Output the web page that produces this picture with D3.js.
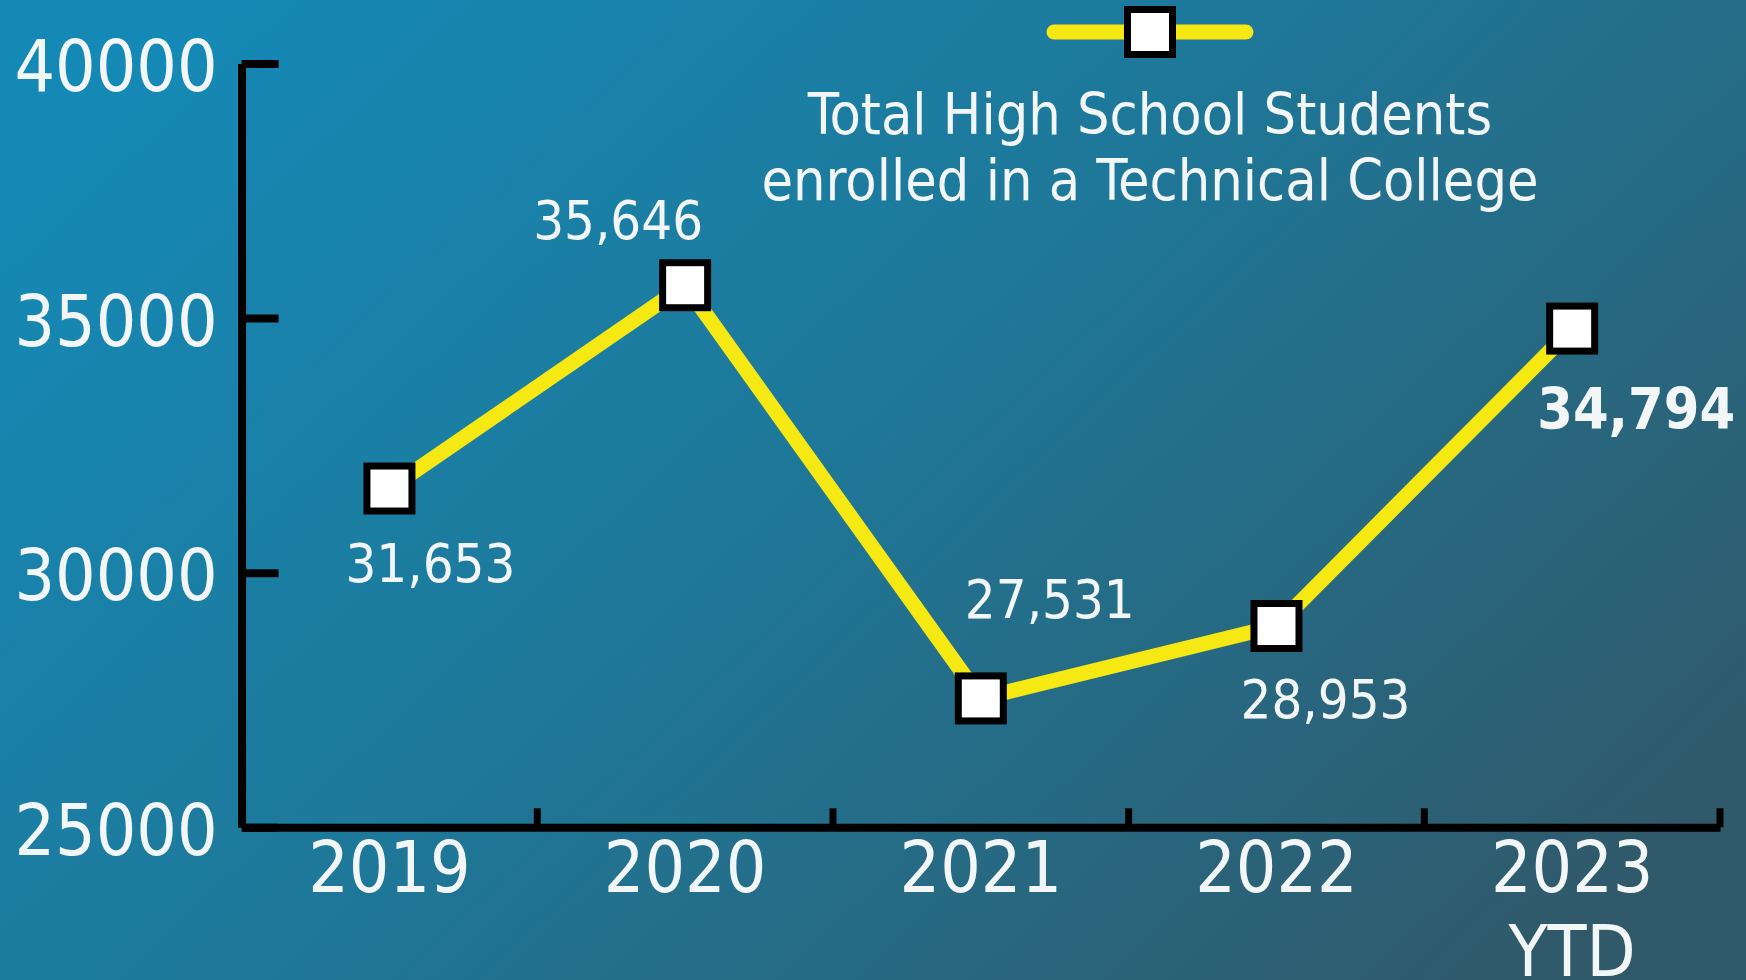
<!DOCTYPE html>
<html>
<head>
<meta charset="utf-8">
<script src="https://cdn.jsdelivr.net/npm/d3@7"></script>
<style>
  html, body { margin: 0; padding: 0; overflow: hidden; }
  svg { display: block; }
  text { font-family: "DejaVu Sans Condensed", "DejaVu Sans", sans-serif; fill: #f3f6f7; }
</style>
</head>
<body>
<div id="vis"></div>
<script>
// chart data
const years = ['2019', '2020', '2021', '2022', '2023'];
const yearLabels = [['2019'], ['2020'], ['2021'], ['2022'], ['2023', 'YTD']];
const students = [31653, 35646, 27531, 28953, 34794];
const yTicks = [25000, 30000, 35000, 40000];
const seriesName = ['Total High School Students', 'enrolled in a Technical College'];

// where each value label sits relative to its marker (px)
const labelShift = [[41, 93], [-67, -46], [69, -80], [49, 92], [64, 100]];

const width = 1746;
const height = 980;
const lineColor = '#f6e812';

const svg = d3.select('#vis')
  .append('svg')
  .attr('width', width)
  .attr('height', height);

// background gradient, bright blue top-left to slate bottom-right
const defs = svg.append('defs');
const grad = defs.append('linearGradient')
  .attr('id', 'bg')
  .attr('x1', 0).attr('y1', 0.2)
  .attr('x2', 1).attr('y2', 0.8);
grad.append('stop').attr('offset', '0%').attr('stop-color', '#1589b6');
grad.append('stop').attr('offset', '45%').attr('stop-color', '#1e7899');
grad.append('stop').attr('offset', '100%').attr('stop-color', '#30596a');

svg.append('rect')
  .attr('width', width)
  .attr('height', height)
  .attr('fill', 'url(#bg)');

// scales
const x = d3.scaleBand()
  .domain(years)
  .range([241.6, 1720])
  .padding(0);

const y = d3.scaleLinear()
  .domain([25000, 40000])
  .range([827.3, 63.5]);

// y axis, ticks pointing into the plot
const yAxis = svg.append('g')
  .attr('transform', 'translate(241.6,0)')
  .call(d3.axisLeft(y)
    .tickValues(yTicks)
    .tickSize(-37)
    .tickSizeOuter(0)
    .tickPadding(24)
    .tickFormat(d3.format('d')));

yAxis.select('.domain').attr('stroke', '#000').attr('stroke-width', 8);
yAxis.selectAll('.tick line').attr('stroke', '#000').attr('stroke-width', 8);
yAxis.selectAll('.tick text')
  .attr('font-size', 71)
  .attr('dy', '0.38em')
  .style('font-family', '"DejaVu Sans Condensed", sans-serif')
  .attr('fill', '#f3f6f7');

// x axis with marks at the band edges
const xAxis = svg.append('g')
  .attr('transform', 'translate(0,827.3)')
  .call(d3.axisBottom(x).tickSize(0).tickSizeOuter(0).tickFormat(''));

xAxis.select('.domain').attr('stroke', '#000').attr('stroke-width', 8);

xAxis.selectAll('.edge')
  .data(years)
  .enter().append('line')
  .attr('class', 'edge')
  .attr('x1', d => x(d) + x.bandwidth())
  .attr('x2', d => x(d) + x.bandwidth())
  .attr('y1', 0)
  .attr('y2', -19)
  .attr('stroke', '#000')
  .attr('stroke-width', 7);

const xLab = svg.selectAll('.xlab')
  .data(years)
  .enter().append('text')
  .attr('class', 'xlab')
  .attr('text-anchor', 'middle')
  .attr('font-size', 71)
  .attr('y', 892);

xLab.selectAll('tspan')
  .data((d, i) => yearLabels[i].map(t => ({ t: t, yr: d })))
  .enter().append('tspan')
  .attr('x', d => x(d.yr) + x.bandwidth() / 2)
  .attr('dy', (d, i) => i === 0 ? 0 : 84)
  .text(d => d.t);

// the line
const pts = years.map((yr, i) => ({ yr: yr, v: students[i], i: i }));

const line = d3.line()
  .x(d => x(d.yr) + x.bandwidth() / 2)
  .y(d => y(d.v));

svg.append('path')
  .datum(pts)
  .attr('d', line)
  .attr('fill', 'none')
  .attr('stroke', lineColor)
  .attr('stroke-width', 15)
  .attr('stroke-linejoin', 'miter');

// square markers
const mSize = 45;
svg.selectAll('.marker')
  .data(pts)
  .enter().append('rect')
  .attr('class', 'marker')
  .attr('x', d => x(d.yr) + x.bandwidth() / 2 - mSize / 2)
  .attr('y', d => y(d.v) - mSize / 2)
  .attr('width', mSize)
  .attr('height', mSize)
  .attr('fill', '#fff')
  .attr('stroke', '#000')
  .attr('stroke-width', 7);

// value labels, the latest one in bold
const fmt = d3.format(',');
svg.selectAll('.vlab')
  .data(pts)
  .enter().append('text')
  .attr('class', 'vlab')
  .attr('text-anchor', 'middle')
  .attr('x', d => x(d.yr) + x.bandwidth() / 2 + labelShift[d.i][0])
  .attr('y', d => y(d.v) + labelShift[d.i][1])
  .attr('font-size', d => d.i === pts.length - 1 ? 57 : 54)
  .attr('font-weight', d => d.i === pts.length - 1 ? 'bold' : 'normal')
  .text(d => fmt(d.v));

// legend at the top
const legend = svg.append('g').attr('transform', 'translate(1150,32)');

legend.append('line')
  .attr('x1', -96).attr('x2', 96)
  .attr('y1', 0).attr('y2', 0)
  .attr('stroke', lineColor)
  .attr('stroke-width', 15)
  .attr('stroke-linecap', 'round');

legend.append('rect')
  .attr('x', -mSize / 2).attr('y', -mSize / 2)
  .attr('width', mSize).attr('height', mSize)
  .attr('fill', '#fff')
  .attr('stroke', '#000')
  .attr('stroke-width', 7);

legend.selectAll('.ltext')
  .data(seriesName)
  .enter().append('text')
  .attr('class', 'ltext')
  .attr('text-anchor', 'middle')
  .attr('font-size', 57)
  .attr('x', 0)
  .attr('y', (d, i) => 102 + i * 66)
  .text(d => d);
</script>
</body>
</html>
